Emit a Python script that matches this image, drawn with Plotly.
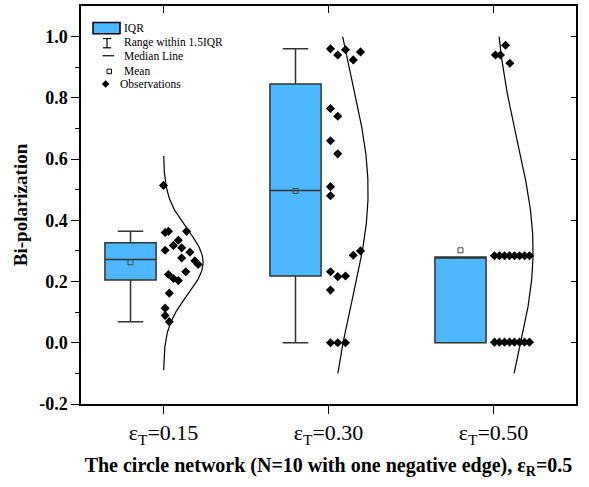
import numpy as np
import plotly.graph_objects as go

# ---------------- data ----------------
categories = ["ε<sub>T</sub>=0.15", "ε<sub>T</sub>=0.30", "ε<sub>T</sub>=0.50"]
cat_pos = [1, 2, 3]

obs_015 = [0.514, 0.36, 0.364, 0.364, 0.335, 0.318, 0.31, 0.302, 0.296, 0.277,
           0.268, 0.256, 0.232, 0.223, 0.21, 0.203, 0.162, 0.113, 0.089, 0.069]
jit_015 = [0.0, 0.01, 0.03, 0.14, 0.09, 0.06, 0.11, 0.01, 0.16, 0.11,
           0.19, 0.21, 0.135, 0.03, 0.06, 0.09, 0.035, 0.01, 0.01, 0.035]

obs_030 = [0.96, 0.94, 0.957, 0.924, 0.95, 0.765, 0.74, 0.66, 0.617, 0.51,
           0.48, 0.30, 0.286, 0.232, 0.216, 0.218, 0.172, 0.0, 0.0, 0.0]
jit_030 = [0.012, 0.056, 0.103, 0.15, 0.194, 0.012, 0.056, 0.012, 0.056, 0.012,
           0.012, 0.194, 0.15, 0.012, 0.056, 0.103, 0.012, 0.012, 0.056, 0.103]

obs_050 = [0.972, 0.94, 0.94, 0.913,
           0.284, 0.284, 0.284, 0.284, 0.284, 0.284, 0.284, 0.284,
           0.002, 0.002, 0.002, 0.002, 0.002, 0.002, 0.002, 0.002]
jit_050 = [0.073, 0.012, 0.042, 0.099,
           0.006, 0.036, 0.067, 0.097, 0.127, 0.158, 0.188, 0.218,
           0.006, 0.036, 0.067, 0.097, 0.127, 0.158, 0.188, 0.218]

observations = [obs_015, obs_030, obs_050]
jitters = [jit_015, jit_030, jit_050]

q1_vals = [0.205, 0.218, 0.0]
median_vals = [0.272, 0.497, 0.28]
q3_vals = [0.327, 0.845, 0.28]
lower_whisk = [0.069, 0.0, 0.0]
upper_whisk = [0.364, 0.96, 0.28]
mean_vals = [0.263, 0.496, 0.302]

curve_lo = [-0.09, -0.1, -0.1]
curve_hi = [0.61, 1.0, 1.0]

yticks = [-0.2, 0.0, 0.2, 0.4, 0.6, 0.8, 1.0]

# ---------------- style ----------------
BOX_FILL = "#4DB8FF"
FONT = "Liberation Serif, Times New Roman, serif"
box_offset = -0.2
box_width = 0.31
curve_amp = 0.24

fig = go.Figure()

for i, cx in enumerate(cat_pos):
    fig.add_trace(go.Box(
        x=[cx + box_offset], q1=[q1_vals[i]], median=[median_vals[i]], q3=[q3_vals[i]],
        lowerfence=[lower_whisk[i]], upperfence=[upper_whisk[i]],
        width=box_width, whiskerwidth=0.5, fillcolor=BOX_FILL,
        line=dict(color="#333333", width=1.5), boxpoints=False,
        showlegend=False, hoverinfo="skip"))
    fig.add_trace(go.Scatter(
        x=[cx + box_offset], y=[mean_vals[i]], mode="markers",
        marker=dict(symbol="square-open", size=5, color="#444444", line=dict(width=1)),
        showlegend=False, hoverinfo="skip"))
    obs = np.array(observations[i])
    fig.add_trace(go.Scatter(
        x=[cx + j for j in jitters[i]], y=observations[i], mode="markers",
        marker=dict(symbol="diamond", size=7, color="black"),
        showlegend=False, hoverinfo="skip"))
    mu, sd = obs.mean(), obs.std(ddof=1)
    yy = np.linspace(curve_lo[i], curve_hi[i], 200)
    xx = cx + curve_amp * np.exp(-0.5 * ((yy - mu) / sd) ** 2)
    fig.add_trace(go.Scatter(x=xx, y=yy, mode="lines",
                             line=dict(color="black", width=1.2),
                             showlegend=False, hoverinfo="skip"))

# dummy trace for mirrored (inside) axes
fig.add_trace(go.Scatter(x=[None], y=[None], xaxis="x2", yaxis="y2",
                         showlegend=False, hoverinfo="skip"))

# ---------------- manual legend ----------------
L, R_, T, B = 81, 576, 4, 404
W, H = R_ - L, B - T
def px(x):
    return (x - L) / W
def py(y):
    return (B - y) / H

shapes = []
shapes.append(dict(type="rect", xref="paper", yref="paper",
                   x0=px(93), x1=px(120), y0=py(32), y1=py(20.7),
                   fillcolor=BOX_FILL, line=dict(color="black", width=1.5)))
# I symbol
shapes.append(dict(type="line", xref="paper", yref="paper", x0=px(107), x1=px(107),
                   y0=py(36.7), y1=py(46), line=dict(color="black", width=1.2)))
shapes.append(dict(type="line", xref="paper", yref="paper", x0=px(103), x1=px(111),
                   y0=py(36.7), y1=py(36.7), line=dict(color="black", width=1.2)))
shapes.append(dict(type="line", xref="paper", yref="paper", x0=px(103), x1=px(111),
                   y0=py(46), y1=py(46), line=dict(color="black", width=1.2)))
# median line
shapes.append(dict(type="line", xref="paper", yref="paper", x0=px(102.5), x1=px(114),
                   y0=py(54), y1=py(54), line=dict(color="black", width=1.2)))
# mean square
shapes.append(dict(type="rect", xref="paper", yref="paper", x0=px(107), x1=px(111.5),
                   y0=py(72), y1=py(67.5), line=dict(color="black", width=1)))
# diamond
cxp, cyp = 105.7, 82.3
shapes.append(dict(type="path", xref="paper", yref="paper",
                   path=f"M {px(cxp-3.5)},{py(cyp)} L {px(cxp)},{py(cyp-3.5)} L {px(cxp+3.5)},{py(cyp)} L {px(cxp)},{py(cyp+3.5)} Z",
                   fillcolor="black", line=dict(color="black", width=0.5)))

legend_items = [("IQR", 121.7, 26), ("Range within 1.5IQR", 121.7, 41),
                ("Median Line", 121.7, 54), ("Mean", 121.7, 69.5),
                ("Observations", 118.3, 82.5)]
annotations = []
for txt, x, y in legend_items:
    annotations.append(dict(text=txt, xref="paper", yref="paper", x=px(x), y=py(y),
                            xanchor="left", yanchor="middle", showarrow=False,
                            font=dict(family=FONT, size=11.5, color="black")))

fig.update_layout(
    width=589, height=487,
    margin=dict(l=81, r=13, t=4, b=83),
    plot_bgcolor="white", paper_bgcolor="white",
    font=dict(family=FONT, color="black"),
    shapes=shapes, annotations=annotations,
    xaxis=dict(range=[0.5, 3.5], tickmode="array", tickvals=cat_pos, ticktext=categories,
               ticks="outside", ticklen=8, tickwidth=1.2, tickcolor="black",
               showline=True, linecolor="black", linewidth=1.5, mirror=True,
               showgrid=False, zeroline=False,
               tickfont=dict(family=FONT, size=22),
               title=dict(text="<b>The circle network (N=10 with one negative edge), ε<sub>R</sub>=0.5</b>",
                          font=dict(family=FONT, size=20), standoff=11)),
    yaxis=dict(range=[-0.2, 1.1], tickmode="array", tickvals=yticks,
               ticktext=[f"<b>{v:.1f}</b>" for v in yticks],
               ticks="outside", ticklen=8, tickwidth=1.2, tickcolor="black",
               minor=dict(tickvals=[-0.1, 0.1, 0.3, 0.5, 0.7, 0.9], ticks="outside",
                          ticklen=4, tickwidth=1.2, tickcolor="black"),
               showline=True, linecolor="black", linewidth=1.5, mirror=True,
               showgrid=False, zeroline=False,
               tickfont=dict(family=FONT, size=18),
               title=dict(text="<b>Bi-polarization</b>", font=dict(family=FONT, size=19),
                          standoff=7)),
    xaxis2=dict(range=[0.5, 3.5], overlaying="x", side="top", anchor="y2",
                tickmode="array", tickvals=cat_pos, ticks="inside", ticklen=7,
                tickwidth=1.2, tickcolor="black", showticklabels=False,
                showgrid=False, zeroline=False, showline=False),
    yaxis2=dict(range=[-0.2, 1.1], overlaying="y", side="right", anchor="x2",
                tickmode="array", tickvals=yticks, ticks="inside", ticklen=5,
                tickwidth=1.2, tickcolor="black", showticklabels=False,
                showgrid=False, zeroline=False, showline=False),
)

fig.write_html("out.html")
